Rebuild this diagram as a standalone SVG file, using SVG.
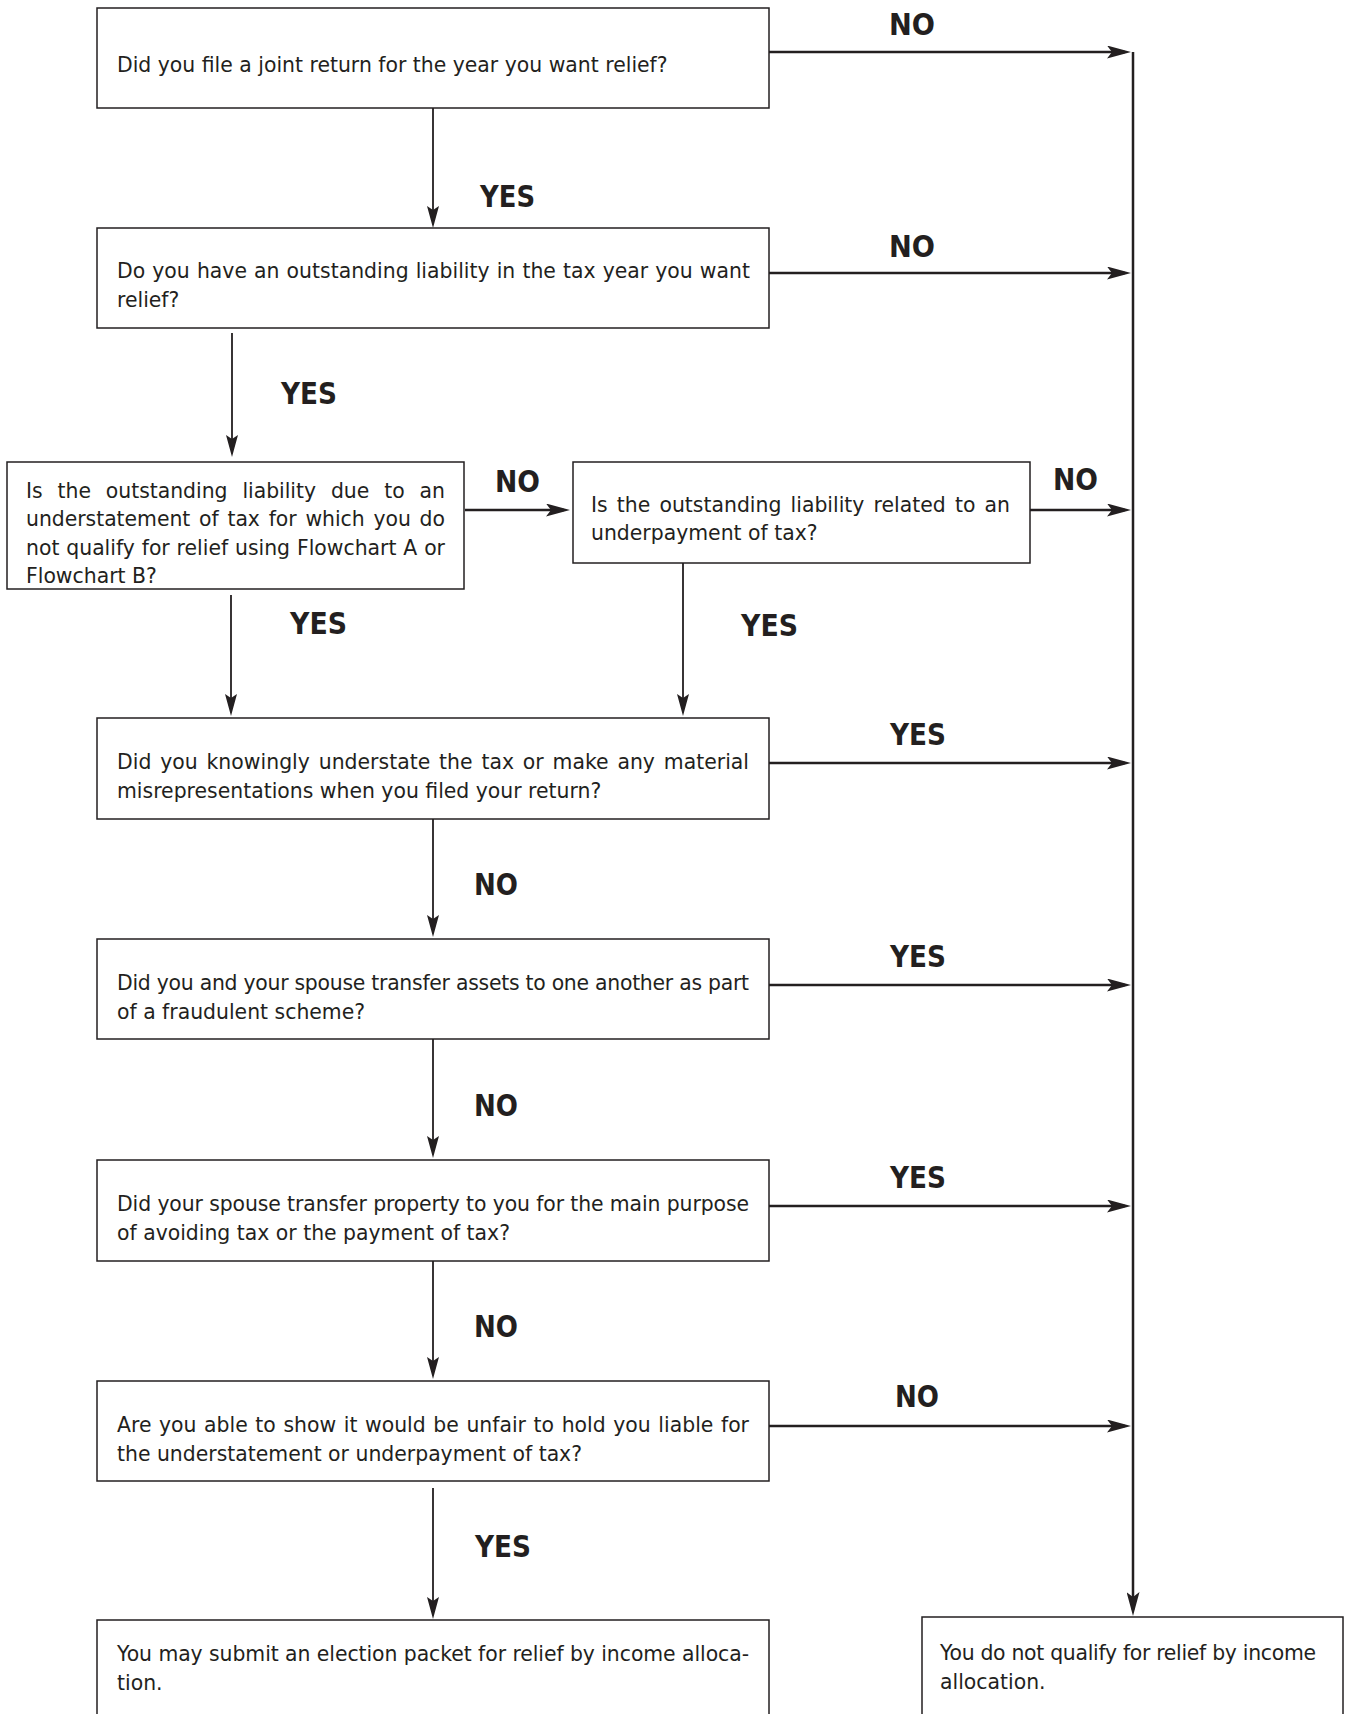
<svg xmlns="http://www.w3.org/2000/svg" width="1347" height="1714" viewBox="0 0 1347 1714">
<style>
.box{fill:#fff;stroke:#231f20;stroke-width:1.5}
.t{font-family:"DejaVu Sans","Liberation Sans",sans-serif;font-size:20.4px;fill:#231f20}
.lb{font-family:"DejaVu Sans","Liberation Sans",sans-serif;font-size:30px;font-weight:bold;fill:#231f20}
.h{fill:none;stroke:#231f20;stroke-width:2.5;marker-end:url(#ah)}
.v{fill:none;stroke:#231f20;stroke-width:1.8;marker-end:url(#av)}
</style>
<defs>
<marker id="ah" markerUnits="userSpaceOnUse" viewBox="0 0 24 13" refX="18" refY="6.5" markerWidth="24" markerHeight="13" orient="auto">
<path d="M0,0 L24,6.5 L0,13 L5,6.5 Z" fill="#231f20"/>
</marker>
<marker id="av" markerUnits="userSpaceOnUse" viewBox="0 0 22 12" refX="16" refY="6" markerWidth="22" markerHeight="12" orient="auto">
<path d="M0,0 L22,6 L0,12 L4,6 Z" fill="#231f20"/>
</marker>
</defs>
<rect width="1347" height="1714" fill="#fff"/>

<g id="connectors">
<path class="h" d="M769,52 H1125"/>
<path class="h" d="M769,273 H1125"/>
<path class="h" d="M465,510 H564"/>
<path class="h" d="M1030,510 H1125"/>
<path class="h" d="M769,763 H1125"/>
<path class="h" d="M769,985 H1125"/>
<path class="h" d="M769,1206 H1125"/>
<path class="h" d="M769,1426 H1125"/>
<path class="h" d="M1133,52 V1610"/>
<path class="v" d="M433,108 V222"/>
<path class="v" d="M232,333 V451"/>
<path class="v" d="M231,595 V710"/>
<path class="v" d="M683,563 V710"/>
<path class="v" d="M433,819 V931"/>
<path class="v" d="M433,1039 V1152"/>
<path class="v" d="M433,1261 V1373"/>
<path class="v" d="M433,1488 V1613"/>
</g>

<g id="labels">
<text class="lb" x="889" y="35" textLength="46" lengthAdjust="spacingAndGlyphs">NO</text>
<text class="lb" x="480" y="207" textLength="55" lengthAdjust="spacingAndGlyphs">YES</text>
<text class="lb" x="889" y="257" textLength="46" lengthAdjust="spacingAndGlyphs">NO</text>
<text class="lb" x="281" y="404" textLength="56" lengthAdjust="spacingAndGlyphs">YES</text>
<text class="lb" x="495" y="492" textLength="45" lengthAdjust="spacingAndGlyphs">NO</text>
<text class="lb" x="1053" y="490" textLength="45" lengthAdjust="spacingAndGlyphs">NO</text>
<text class="lb" x="290" y="634" textLength="57" lengthAdjust="spacingAndGlyphs">YES</text>
<text class="lb" x="741" y="636" textLength="57" lengthAdjust="spacingAndGlyphs">YES</text>
<text class="lb" x="890" y="745" textLength="56" lengthAdjust="spacingAndGlyphs">YES</text>
<text class="lb" x="474" y="895" textLength="44" lengthAdjust="spacingAndGlyphs">NO</text>
<text class="lb" x="890" y="967" textLength="56" lengthAdjust="spacingAndGlyphs">YES</text>
<text class="lb" x="474" y="1116" textLength="44" lengthAdjust="spacingAndGlyphs">NO</text>
<text class="lb" x="890" y="1188" textLength="56" lengthAdjust="spacingAndGlyphs">YES</text>
<text class="lb" x="474" y="1337" textLength="44" lengthAdjust="spacingAndGlyphs">NO</text>
<text class="lb" x="895" y="1407" textLength="44" lengthAdjust="spacingAndGlyphs">NO</text>
<text class="lb" x="475" y="1557" textLength="56" lengthAdjust="spacingAndGlyphs">YES</text>
</g>

<g id="n1">
<rect class="box" x="97" y="8" width="672" height="100"/>
<text class="t" x="117" y="72">Did you file a joint return for the year you want relief?</text>
</g>
<g id="n2">
<rect class="box" x="97" y="228" width="672" height="100"/>
<text class="t" x="117" y="278" word-spacing="0.6" textLength="633" lengthAdjust="spacing">Do you have an outstanding liability in the tax year you want</text>
<text class="t" x="117" y="306.5">relief?</text>
</g>
<g id="n3">
<rect class="box" x="7" y="462" width="457" height="127"/>
<text class="t" x="26" y="497.5" word-spacing="8.5" textLength="419" lengthAdjust="spacing">Is the outstanding liability due to an</text>
<text class="t" x="26" y="526" word-spacing="2.3" textLength="419" lengthAdjust="spacing">understatement of tax for which you do</text>
<text class="t" x="26" y="554.5" word-spacing="0.4" textLength="419" lengthAdjust="spacing">not qualify for relief using Flowchart A or</text>
<text class="t" x="26" y="583">Flowchart B?</text>
</g>
<g id="n4">
<rect class="box" x="573" y="462" width="457" height="101"/>
<text class="t" x="591" y="511.5" word-spacing="2.7" textLength="419" lengthAdjust="spacing">Is the outstanding liability related to an</text>
<text class="t" x="591" y="540">underpayment of tax?</text>
</g>
<g id="n5">
<rect class="box" x="97" y="718" width="672" height="101"/>
<text class="t" x="117" y="769" word-spacing="2.3" textLength="632" lengthAdjust="spacing">Did you knowingly understate the tax or make any material</text>
<text class="t" x="117" y="797.5">misrepresentations when you filed your return?</text>
</g>
<g id="n6">
<rect class="box" x="97" y="939" width="672" height="100"/>
<text class="t" x="117" y="990" textLength="632" lengthAdjust="spacing">Did you and your spouse transfer assets to one another as part</text>
<text class="t" x="117" y="1018.5">of a fraudulent scheme?</text>
</g>
<g id="n7">
<rect class="box" x="97" y="1160" width="672" height="101"/>
<text class="t" x="117" y="1211" textLength="632" lengthAdjust="spacing">Did your spouse transfer property to you for the main purpose</text>
<text class="t" x="117" y="1239.5">of avoiding tax or the payment of tax?</text>
</g>
<g id="n8">
<rect class="box" x="97" y="1381" width="672" height="100"/>
<text class="t" x="117" y="1432" word-spacing="1.1" textLength="632" lengthAdjust="spacing">Are you able to show it would be unfair to hold you liable for</text>
<text class="t" x="117" y="1460.5">the understatement or underpayment of tax?</text>
</g>
<g id="n9">
<rect class="box" x="97" y="1620" width="672" height="110"/>
<text class="t" x="117" y="1661" textLength="632" lengthAdjust="spacing">You may submit an election packet for relief by income alloca-</text>
<text class="t" x="117" y="1689.5">tion.</text>
</g>
<g id="n10">
<rect class="box" x="922" y="1617" width="421" height="110"/>
<text class="t" x="940" y="1660" textLength="376" lengthAdjust="spacing">You do not qualify for relief by income</text>
<text class="t" x="940" y="1688.5">allocation.</text>
</g>
</svg>
